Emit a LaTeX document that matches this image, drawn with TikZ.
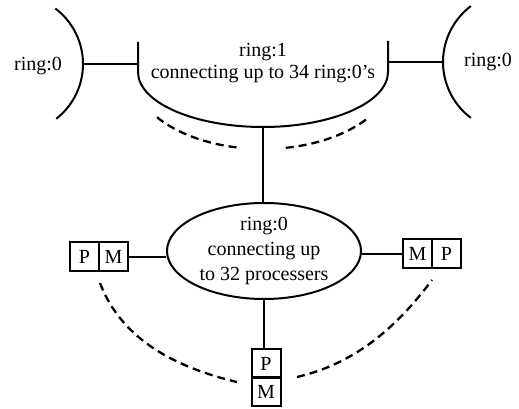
\documentclass[tikz,border=0pt]{standalone}
\usepackage{fontspec}
\setmainfont{Liberation Serif}
\usetikzlibrary{shapes.geometric}
\begin{document}
\begin{tikzpicture}[x=1pt,y=1pt,
  line/.style={line width=2pt},
  dashline/.style={line width=2.3pt, dash pattern=on 8pt off 5pt},
  lbl/.style={font=\fontsize{20}{22}\selectfont, inner sep=0pt, align=center},
  cell/.style={draw, line width=2pt, minimum width=29pt, minimum height=29pt, inner sep=0pt, font=\fontsize{20}{23}\selectfont},
  ring/.style={draw, line width=2pt, ellipse, minimum width=194pt, minimum height=96pt, inner sep=0pt, align=center, font=\fontsize{20}{25}\selectfont}
]
\useasboundingbox (0,0) rectangle (519,409);

% outer ring:0 arcs
\draw[line] (13.5,345) ++(53:69.5) arc[start angle=53, end angle=-52, radius=69.5];
\coordinate (lArc) at (83,345);
\draw[line] (513,347) ++(127:70) arc[start angle=127, end angle=233, radius=70];
\coordinate (rArc) at (443,347);
\node[lbl] (lText) at (38,343) {ring:0};
\node[lbl] (rText) at (488,347) {ring:0};

% ring:1 shape
\draw[line] (138,367) -- (138,337) arc[start angle=180, end angle=360, x radius=125, y radius=55] -- (388,368);
\coordinate (r1L) at (138,345);
\coordinate (r1R) at (388,347);
\coordinate (r1B) at (263,282);
\node[lbl] (r1Text) at (263,346) {ring:1\\connecting up to 34 ring:0’s};

\draw[line] (lArc) -- (r1L);
\draw[line] (r1R) -- (rArc);

% dashed arcs under ring:1
\draw[dashline] (263,337) ++(216:131 and 77) arc[start angle=216, end angle=260, x radius=131, y radius=77];
\draw[dashline] (263,337) ++(280:131 and 77) arc[start angle=280, end angle=324, x radius=131, y radius=77];

% central ring:0
\node[ring] (ell) at (264,158) {ring:0\\connecting up\\to 32 processers};
\draw[line] (r1B) -- (r1B |- ell.north);

% processor/memory pairs
\node[cell] (pL) at (84.5,152) {P};
\node[cell] (mL) at (113.5,152) {M};
\node[cell] (mR) at (417.5,155) {M};
\node[cell] (pR) at (446.5,155) {P};
\node[cell] (pB) at (266,45) {P};
\node[cell] (mB) at (266,17) {M};

\draw[line] (mL.east) -- (mL.east -| ell.west);
\draw[line] (ell.east |- mR.west) -- (mR.west);
\draw[line] (pB.north -| ell.south) -- (ell.south);

% dashed curves between the pairs
\coordinate (dL1) at (100,126);
\coordinate (dL2) at (237,27);
\coordinate (dR1) at (297,32);
\coordinate (dR2) at (432,129);
\draw[dashline] (dL1) .. controls (122,68) and (178,41) .. (dL2);
\draw[dashline] (dR1) .. controls (355,45.5) and (396,81) .. (dR2);
\end{tikzpicture}
\end{document}
